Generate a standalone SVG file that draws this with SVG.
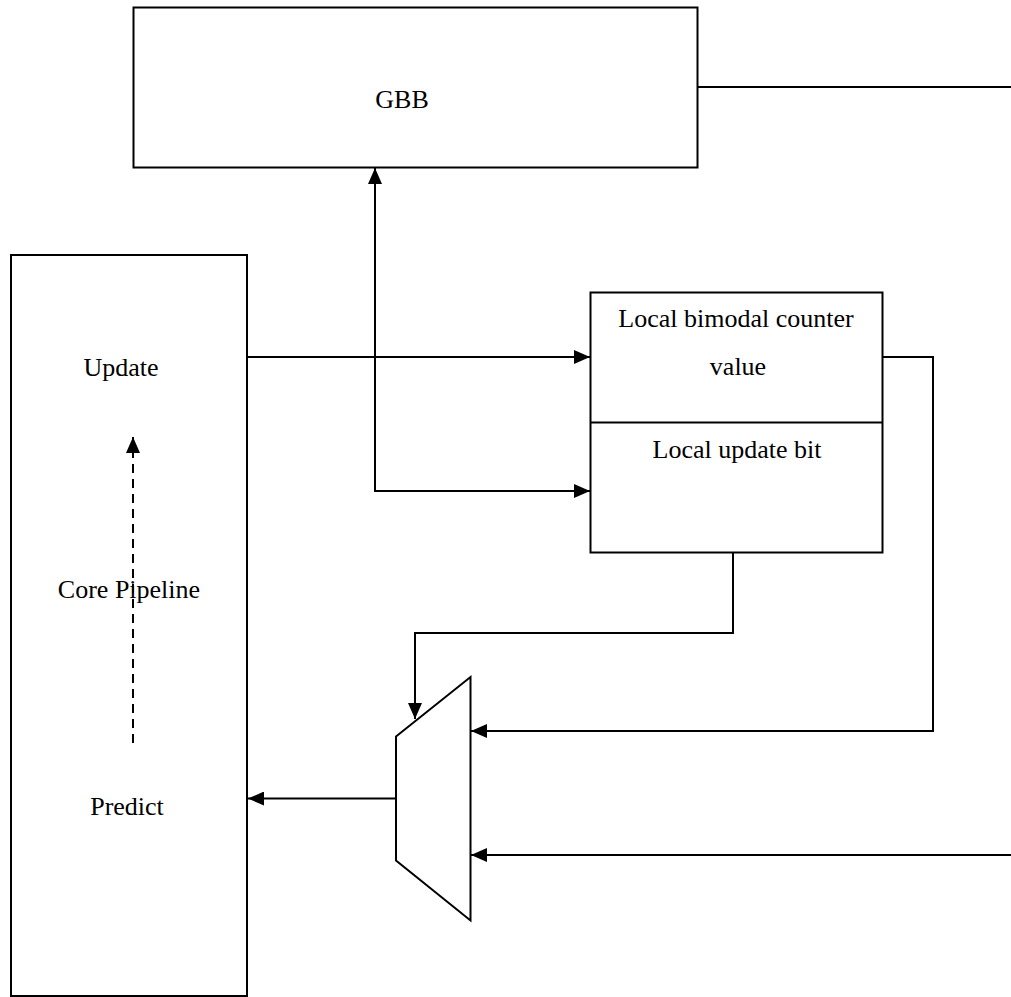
<svg xmlns="http://www.w3.org/2000/svg" width="1011" height="997" viewBox="0 0 1011 997">
  <style>
    .box { fill: #fff; stroke: #000; stroke-width: 2; }
    .wire { fill: none; stroke: #000; stroke-width: 2; }
    .arrow { marker-end: url(#head); }
    .label { font-family: "Liberation Serif", "Times New Roman", serif; font-size: 26px; fill: #000; text-anchor: middle; }
  </style>
  <defs>
    <marker id="head" markerUnits="userSpaceOnUse" markerWidth="16" markerHeight="14" refX="16" refY="7" orient="auto">
      <path d="M0,0 L16,7 L0,14 Z" fill="#000"/>
    </marker>
  </defs>
  <rect width="1011" height="997" fill="#fff"/>

  <!-- GBB block -->
  <g id="gbb">
    <rect class="box" x="133.5" y="7.5" width="564" height="160"/>
    <text class="label" x="402" y="108">GBB</text>
  </g>

  <!-- core pipeline -->
  <g id="core-pipeline">
    <rect class="box" x="11" y="255" width="236" height="741"/>
    <text class="label" x="121" y="376">Update</text>
    <text class="label" x="129" y="598">Core Pipeline</text>
    <text class="label" x="127" y="815">Predict</text>
    <line class="wire arrow" x1="133" y1="743" x2="133" y2="437" stroke-dasharray="9,6"/>
  </g>

  <!-- local predictor tables -->
  <g id="local-tables">
    <rect class="box" x="590.5" y="292.5" width="292" height="260"/>
    <line class="wire" x1="590.5" y1="422.5" x2="882.5" y2="422.5"/>
    <text class="label" x="736" y="327">Local bimodal counter</text>
    <text class="label" x="738" y="375">value</text>
    <text class="label" x="737" y="458">Local update bit</text>
  </g>

  <!-- selection mux -->
  <g id="mux">
    <polygon class="box" points="396,736.5 470.5,677 470.5,920.5 396,860.5"/>
  </g>

  <!-- connectors -->
  <g id="connectors">
    <line class="wire" x1="697.5" y1="87" x2="1011" y2="87"/>
    <line class="wire arrow" x1="247" y1="357" x2="590" y2="357"/>
    <polyline class="wire arrow" points="375,491 375,168"/>
    <polyline class="wire arrow" points="375,357 375,491 590,491"/>
    <polyline class="wire arrow" points="883,357 933,357 933,731 471,731"/>
    <polyline class="wire arrow" points="733,553 733,633 415,633 415,719"/>
    <line class="wire arrow" x1="1011" y1="855" x2="471" y2="855"/>
    <line class="wire arrow" x1="396" y1="798.5" x2="248" y2="798.5"/>
  </g>
</svg>
